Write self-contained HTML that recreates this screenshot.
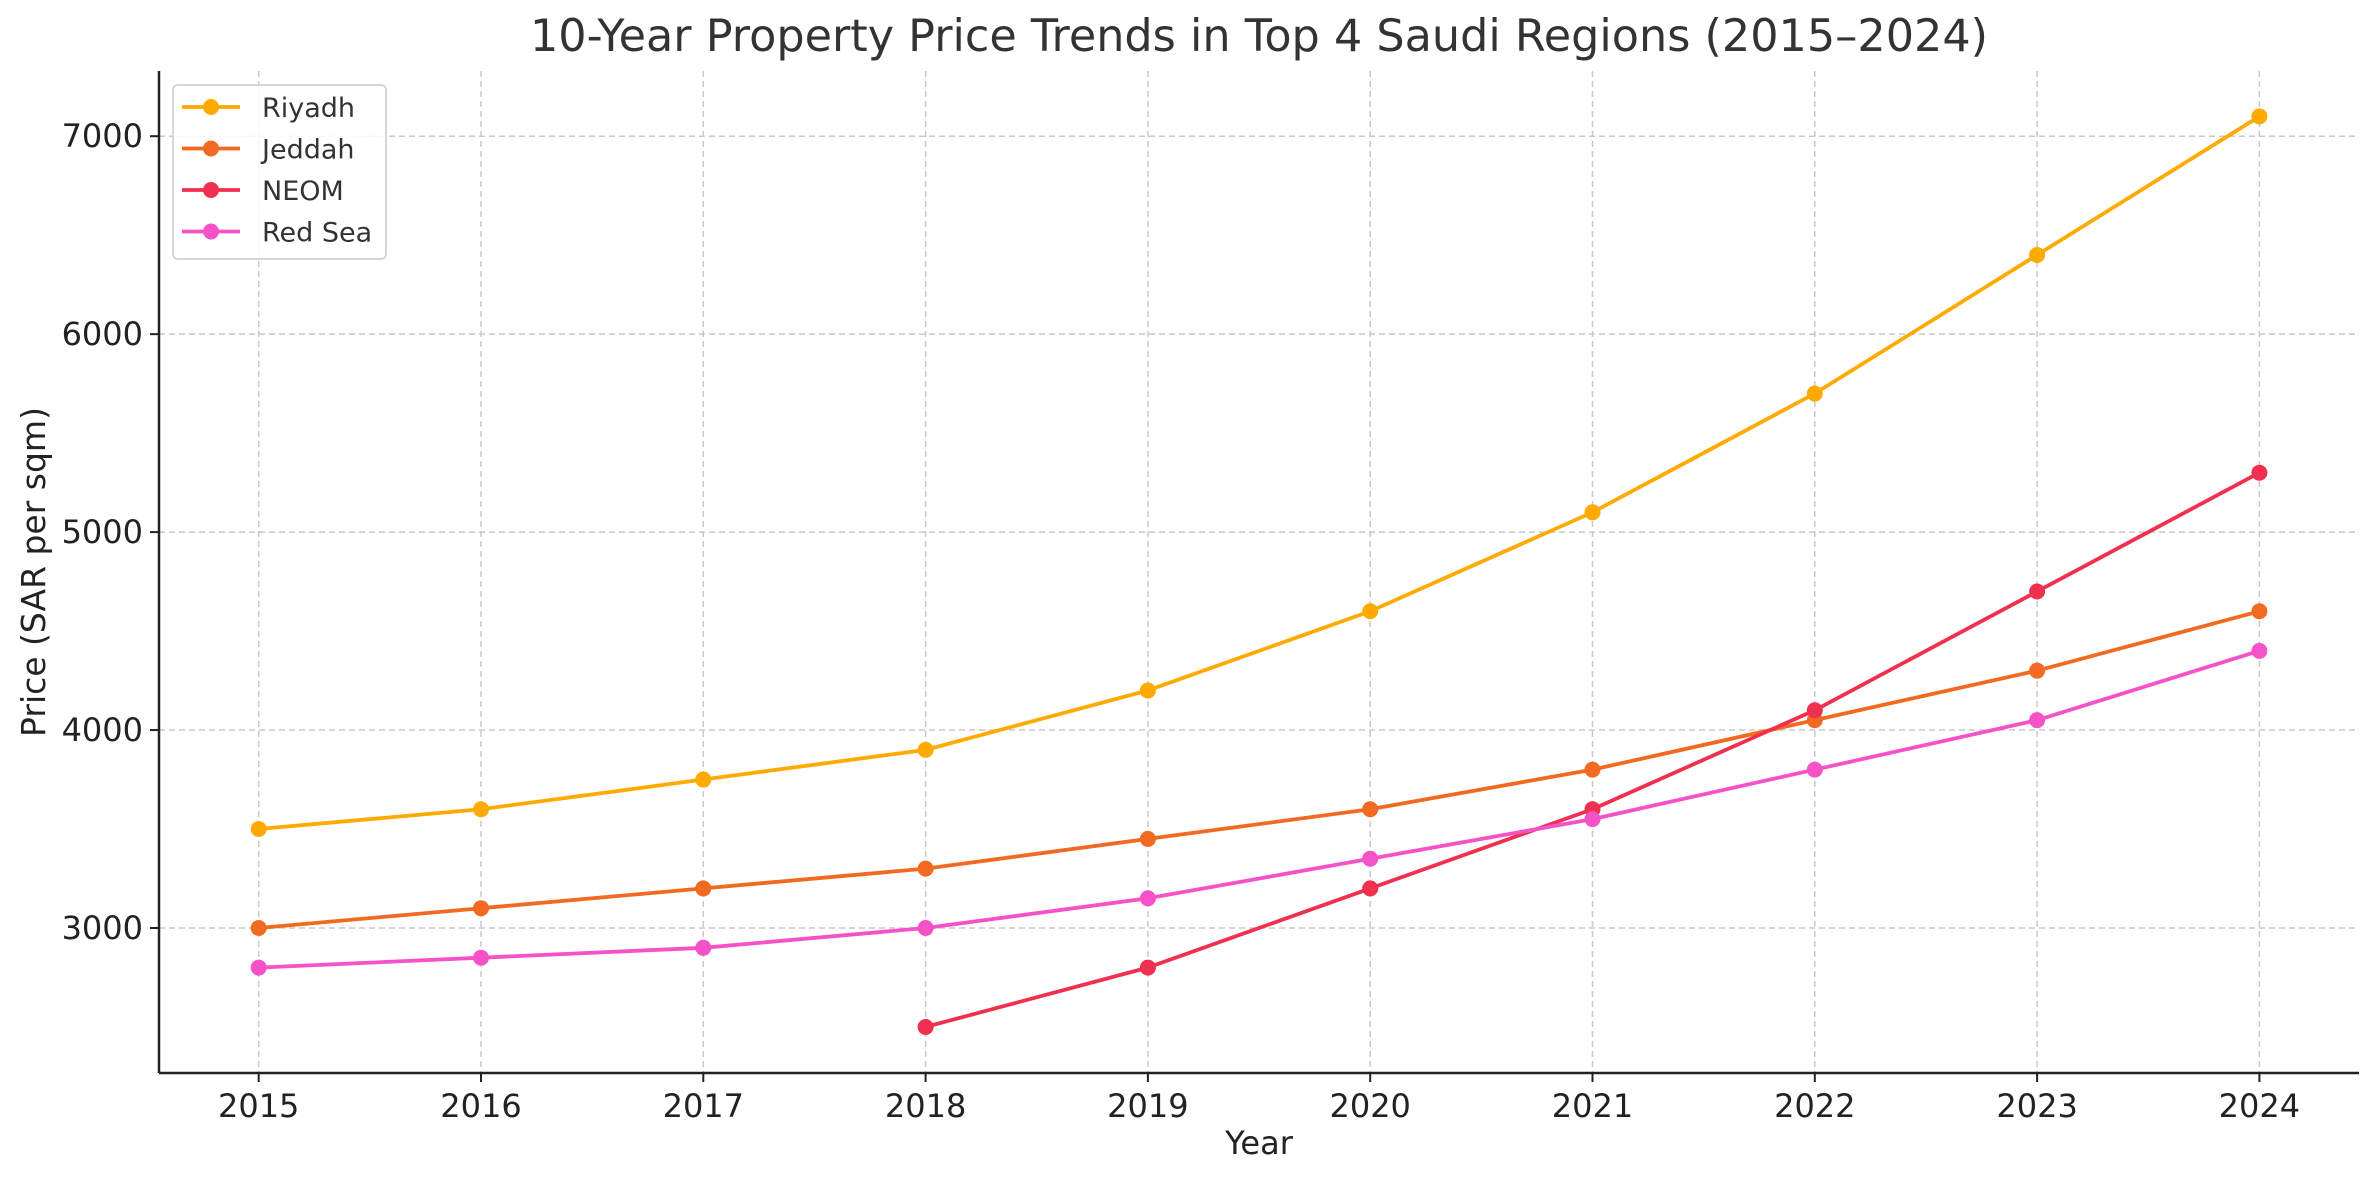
<!DOCTYPE html>
<html><head><meta charset="utf-8"><style>
html,body{margin:0;padding:0;background:#fff;}
svg{display:block;font-family:"DejaVu Sans","Liberation Sans",sans-serif;}
</style></head><body>
<svg id="chart" width="2379" height="1180" viewBox="0 0 2379 1180">
<text x="1259" y="51" font-size="44.5" fill="#333" text-anchor="middle">10-Year Property Price Trends in Top 4 Saudi Regions (2015–2024)</text>
<g id="grid"></g><g id="axes"></g><g id="series"></g><g id="legend"></g>
<text x="1259" y="1154" font-size="32" fill="#222" text-anchor="middle">Year</text>
<text transform="translate(45,572) rotate(-90)" font-size="33" fill="#222" text-anchor="middle">Price (SAR per sqm)</text>
</svg>
<script>
const years=[2015,2016,2017,2018,2019,2020,2021,2022,2023,2024];
const yTicks=[3000,4000,5000,6000,7000];
const riyadh=[3500,3600,3750,3900,4200,4600,5100,5700,6400,7100];
const jeddah=[3000,3100,3200,3300,3450,3600,3800,4050,4300,4600];
const neom=[null,null,null,2500,2800,3200,3600,4100,4700,5300];
const redSea=[2800,2850,2900,3000,3150,3350,3550,3800,4050,4400];
const names=["Riyadh","Jeddah","NEOM","Red Sea"];
const colors=["#FFAA00","#F26A22","#F0304F","#F652C8"];
const allSeries=[riyadh,jeddah,neom,redSea];
const NS="http://www.w3.org/2000/svg";
const L=159,R=2359,T=71,B=1073;
const x=y=>258.7+(y-2015)*222.3;
const yv=v=>928-(v-3000)*0.19795;
function mk(tag,attrs,parent){const e=document.createElementNS(NS,tag);for(const k in attrs)e.setAttribute(k,attrs[k]);parent.appendChild(e);return e;}
const grid=document.getElementById('grid'),axes=document.getElementById('axes'),ser=document.getElementById('series'),leg=document.getElementById('legend');
years.forEach(yr=>{
 const g=mk('line',{x1:x(yr),x2:x(yr),y1:T,y2:B,stroke:'#c8c8c8','stroke-width':1.5,'stroke-dasharray':'6,4'},grid);
 
 
 const t=mk('line',{x1:x(yr),x2:x(yr),y1:B,y2:B+9,stroke:'#222','stroke-width':2},axes);
 
 
 const tx=mk('text',{x:x(yr),y:B+44,'font-size':32,fill:'#222','text-anchor':'middle'},axes);
 tx.textContent=yr;
 
 
});
yTicks.forEach(v=>{
 const g=mk('line',{x1:L,x2:R,y1:yv(v),y2:yv(v),stroke:'#c8c8c8','stroke-width':1.5,'stroke-dasharray':'6,4'},grid);
 
 
 const t=mk('line',{x1:L-9,x2:L,y1:yv(v),y2:yv(v),stroke:'#222','stroke-width':2},axes);
 
 
 const tx=mk('text',{x:L-16,y:yv(v)+11,'font-size':32,fill:'#222','text-anchor':'end'},axes);
 tx.textContent=v;
 
 
});
const sp1=mk('line',{x1:L,x2:L,y1:T,y2:B,stroke:'#222','stroke-width':2.5},axes);


const sp2=mk('line',{x1:L,x2:R,y1:B,y2:B,stroke:'#222','stroke-width':2.5},axes);


allSeries.forEach((s,i)=>{
 const pts=[];s.forEach((v,j)=>{if(v!==null)pts.push([x(years[j]),yv(v)]);});
 const pl=mk('polyline',{points:pts.map(p=>p.join(',')).join(' '),fill:'none',stroke:colors[i],'stroke-width':3.8},ser);
 
 
 pts.forEach(p=>{
  const c=mk('circle',{cx:p[0],cy:p[1],r:8,fill:colors[i]},ser);
  
  
 });
});
const box=mk('rect',{x:173,y:85,width:213,height:174,rx:5,fill:'#fff','fill-opacity':0.85,stroke:'#d6d6d6','stroke-width':2},leg);


names.forEach((n,i)=>{
 const yy=107+i*41.5;
 const ln=mk('line',{x1:182,x2:240,y1:yy,y2:yy,stroke:colors[i],'stroke-width':3.8},leg);
 
 
 const c=mk('circle',{cx:211,cy:yy,r:8,fill:colors[i]},leg);
 
 
 const t=mk('text',{x:262,y:yy+10,'font-size':27,fill:'#333'},leg);
 t.textContent=n;
 
 
});
</script>
</body></html>
